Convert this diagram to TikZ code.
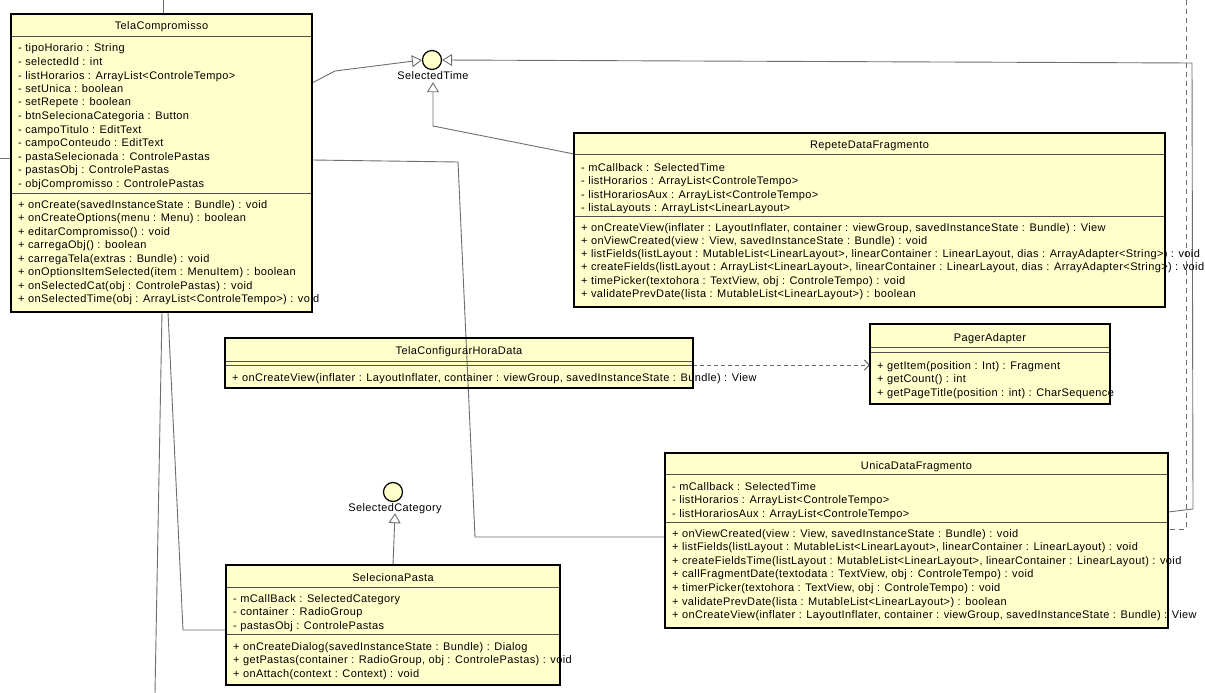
\documentclass[tikz,border=0pt]{standalone}
\usepackage{fontspec}
\setmainfont{Liberation Sans}
\newfontfamily\umlff[LetterSpace=3.5]{Liberation Sans}
\usetikzlibrary{arrows.meta,calc}
\definecolor{umlfill}{HTML}{FFFFCC}
\definecolor{lgray}{HTML}{6E6E6E}
\definecolor{sgray}{HTML}{505050}
\newcommand{\umlfont}{\umlff\fontsize{11}{13}\selectfont}
\begin{document}
\begin{tikzpicture}[x=1pt,y=-1pt,
  cls/.style={fill=umlfill, inner sep=0pt, outer sep=0pt, anchor=north west},
  clsborder/.style={draw=black, line width=1.8pt},
  row/.style={anchor=west, inner sep=0pt, text height=8pt, text depth=0pt, font=\umlfont},
  ttl/.style={anchor=center, inner sep=0pt, text height=8pt, text depth=0pt, font=\umlfont},
  sepline/.style={draw=sgray, line width=0.9pt},
  conn/.style={draw=lgray, line width=0.9pt},
  real/.style={conn, -{Triangle[open, length=10pt, width=12pt]}},
  depend/.style={conn, dash pattern=on 4pt off 3pt, -{Straight Barb[length=5pt, width=10pt]}},
  dashconn/.style={conn, dash pattern=on 5pt off 4pt},
  iface/.style={circle, draw=black, line width=1.2pt, fill=umlfill, minimum size=19pt, inner sep=0pt},
  ilabel/.style={inner sep=2pt, text height=8pt, text depth=0pt, font=\umlfont}
]
\fill[white] (0,0) rectangle (1205,693);
\useasboundingbox (0,0) rectangle (1205,693);

% ---------- class boxes (fill only) ----------
\node[cls, minimum width=301pt, minimum height=298pt] (tc) at (11,14) {};
\node[cls, minimum width=591pt, minimum height=174pt] (rd) at (574,133) {};
\node[cls, minimum width=468pt, minimum height=50pt] (tch) at (225,338) {};
\node[cls, minimum width=240pt, minimum height=80pt] (pa) at (870,324) {};
\node[cls, minimum width=503pt, minimum height=175pt] (ud) at (665,453) {};
\node[cls, minimum width=334pt, minimum height=120pt] (sp) at (226,565) {};

% ---------- interfaces ----------
\node[iface] (st) at (432,60) {};
\node[ilabel] (stl) at (433,76) {SelectedTime};
\node[iface] (sc) at (393,492) {};
\node[ilabel] (scl) at (395,507) {SelectedCategory};

% ---------- free ends ----------
\coordinate (topin) at (163,0);
\coordinate (leftin) at (0,158);
\coordinate (botout) at (155,693);
\coordinate (dtop) at (1186,0);

% ---------- connectors ----------
\draw[conn] (topin) -- ($(tc.north west)+(152,0)$);
\draw[conn] (leftin) -- ($(tc.north west)+(0,144)$);
\draw[real] ($(tc.north east)+(0,69)$) -- (335,71) -- (st.west);
\draw[real] ($(ud.north east)+(0,59)$) -- (1193,509) -- (1192,63) -- (st.east);
\draw[real] ($(rd.north west)+(0,21)$) -- (433,126) -- (stl.south);
\draw[conn] ($(tc.north east)+(0,146)$) -- (458,162) -- (475,537) -- ($(ud.north west)+(0,84)$);
\draw[conn] ($(tc.south west)+(151,0)$) -- (botout);
\draw[conn] ($(tc.south west)+(157,0)$) -- (183,630) -- ($(sp.north west)+(0,65)$);
\draw[depend] ($(tch.north east)+(0,27)$) -- ($(pa.north west)+(0,41)$);
\draw[dashconn] (dtop) -- (1186,529) -- ($(ud.north east)+(0,76)$);
\draw[real] (sp.north) -- (scl.south);

% ---------- TelaCompromisso ----------
\node[ttl] (tc-t) at ($(tc.north)+(0,12)$) {TelaCompromisso};
\draw[sepline] ($(tc.north west)+(0,22)$) -- ($(tc.north east)+(0,22)$);
\draw[sepline] ($(tc.north west)+(0,179)$) -- ($(tc.north east)+(0,179)$);
\foreach \t [count=\i from 0] in {
  {- tipoHorario : String},
  {- selectedId : int},
  {- listHorarios : ArrayList<ControleTempo>},
  {- setUnica : boolean},
  {- setRepete : boolean},
  {- btnSelecionaCategoria : Button},
  {- campoTitulo : EditText},
  {- campoConteudo : EditText},
  {- pastaSelecionada : ControlePastas},
  {- pastasObj : ControlePastas},
  {- objCompromisso : ControlePastas}}
  \node[row] (tc-a\i) at ($(tc.north west)+(7,34+13.5*\i)$) {\t};
\foreach \t [count=\i from 0] in {
  {+ onCreate(savedInstanceState : Bundle) : void},
  {+ onCreateOptions(menu : Menu) : boolean},
  {+ editarCompromisso() : void},
  {+ carregaObj() : boolean},
  {+ carregaTela(extras : Bundle) : void},
  {+ onOptionsItemSelected(item : MenuItem) : boolean},
  {+ onSelectedCat(obj : ControlePastas) : void},
  {+ onSelectedTime(obj : ArrayList<ControleTempo>) : void}}
  \node[row] (tc-m\i) at ($(tc.north west)+(7,190+13.5*\i)$) {\t};
\draw[clsborder] (tc.north west) rectangle (tc.south east);

% ---------- RepeteDataFragmento ----------
\node[ttl] (rd-t) at ($(rd.north)+(0,11)$) {RepeteDataFragmento};
\draw[sepline] ($(rd.north west)+(0,21)$) -- ($(rd.north east)+(0,21)$);
\draw[sepline] ($(rd.north west)+(0,83)$) -- ($(rd.north east)+(0,83)$);
\foreach \t [count=\i from 0] in {
  {- mCallback : SelectedTime},
  {- listHorarios : ArrayList<ControleTempo>},
  {- listHorariosAux : ArrayList<ControleTempo>},
  {- listaLayouts : ArrayList<LinearLayout>}}
  \node[row] (rd-a\i) at ($(rd.north west)+(7,34+13.5*\i)$) {\t};
\foreach \t [count=\i from 0] in {
  {+ onCreateView(inflater : LayoutInflater, container : viewGroup, savedInstanceState : Bundle) : View},
  {+ onViewCreated(view : View, savedInstanceState : Bundle) : void},
  {+ listFields(listLayout : MutableList<LinearLayout>, linearContainer : LinearLayout, dias : ArrayAdapter<String>) : void},
  {+ createFields(listLayout : ArrayList<LinearLayout>, linearContainer : LinearLayout, dias : ArrayAdapter<String>) : void},
  {+ timePicker(textohora : TextView, obj : ControleTempo) : void},
  {+ validatePrevDate(lista : MutableList<LinearLayout>) : boolean}}
  \node[row] (rd-m\i) at ($(rd.north west)+(7,94+13.3*\i)$) {\t};
\draw[clsborder] (rd.north west) rectangle (rd.south east);

% ---------- TelaConfigurarHoraData ----------
\node[ttl] (tch-t) at ($(tch.north)+(0,12)$) {TelaConfigurarHoraData};
\draw[sepline] ($(tch.north west)+(0,23)$) -- ($(tch.north east)+(0,23)$);
\draw[sepline] ($(tch.north west)+(0,27)$) -- ($(tch.north east)+(0,27)$);
\node[row] (tch-m0) at ($(tch.north west)+(7,39)$) {+ onCreateView(inflater : LayoutInflater, container : viewGroup, savedInstanceState : Bundle) : View};
\draw[clsborder] (tch.north west) rectangle (tch.south east);

% ---------- PagerAdapter ----------
\node[ttl] (pa-t) at ($(pa.north)+(0,13)$) {PagerAdapter};
\draw[sepline] ($(pa.north west)+(0,23)$) -- ($(pa.north east)+(0,23)$);
\draw[sepline] ($(pa.north west)+(0,28)$) -- ($(pa.north east)+(0,28)$);
\foreach \t [count=\i from 0] in {
  {+ getItem(position : Int) : Fragment},
  {+ getCount() : int},
  {+ getPageTitle(position : int) : CharSequence}}
  \node[row] (pa-m\i) at ($(pa.north west)+(7,41+13.5*\i)$) {\t};
\draw[clsborder] (pa.north west) rectangle (pa.south east);

% ---------- UnicaDataFragmento ----------
\node[ttl] (ud-t) at ($(ud.north)+(0,12)$) {UnicaDataFragmento};
\draw[sepline] ($(ud.north west)+(0,21)$) -- ($(ud.north east)+(0,21)$);
\draw[sepline] ($(ud.north west)+(0,69)$) -- ($(ud.north east)+(0,69)$);
\foreach \t [count=\i from 0] in {
  {- mCallback : SelectedTime},
  {- listHorarios : ArrayList<ControleTempo>},
  {- listHorariosAux : ArrayList<ControleTempo>}}
  \node[row] (ud-a\i) at ($(ud.north west)+(7,33+13.5*\i)$) {\t};
\foreach \t [count=\i from 0] in {
  {+ onViewCreated(view : View, savedInstanceState : Bundle) : void},
  {+ listFields(listLayout : MutableList<LinearLayout>, linearContainer : LinearLayout) : void},
  {+ createFieldsTime(listLayout : MutableList<LinearLayout>, linearContainer : LinearLayout) : void},
  {+ callFragmentDate(textodata : TextView, obj : ControleTempo) : void},
  {+ timerPicker(textohora : TextView, obj : ControleTempo) : void},
  {+ validatePrevDate(lista : MutableList<LinearLayout>) : boolean},
  {+ onCreateView(inflater : LayoutInflater, container : viewGroup, savedInstanceState : Bundle) : View}}
  \node[row] (ud-m\i) at ($(ud.north west)+(7,80+13.6*\i)$) {\t};
\draw[clsborder] (ud.north west) rectangle (ud.south east);

% ---------- SelecionaPasta ----------
\node[ttl] (sp-t) at ($(sp.north)+(0,12)$) {SelecionaPasta};
\draw[sepline] ($(sp.north west)+(0,22)$) -- ($(sp.north east)+(0,22)$);
\draw[sepline] ($(sp.north west)+(0,69)$) -- ($(sp.north east)+(0,69)$);
\foreach \t [count=\i from 0] in {
  {- mCallBack : SelectedCategory},
  {- container : RadioGroup},
  {- pastasObj : ControlePastas}}
  \node[row] (sp-a\i) at ($(sp.north west)+(7,33+13.5*\i)$) {\t};
\foreach \t [count=\i from 0] in {
  {+ onCreateDialog(savedInstanceState : Bundle) : Dialog},
  {+ getPastas(container : RadioGroup, obj : ControlePastas) : void},
  {+ onAttach(context : Context) : void}}
  \node[row] (sp-m\i) at ($(sp.north west)+(7,81+13.5*\i)$) {\t};
\draw[clsborder] (sp.north west) rectangle (sp.south east);
\end{tikzpicture}
\end{document}
